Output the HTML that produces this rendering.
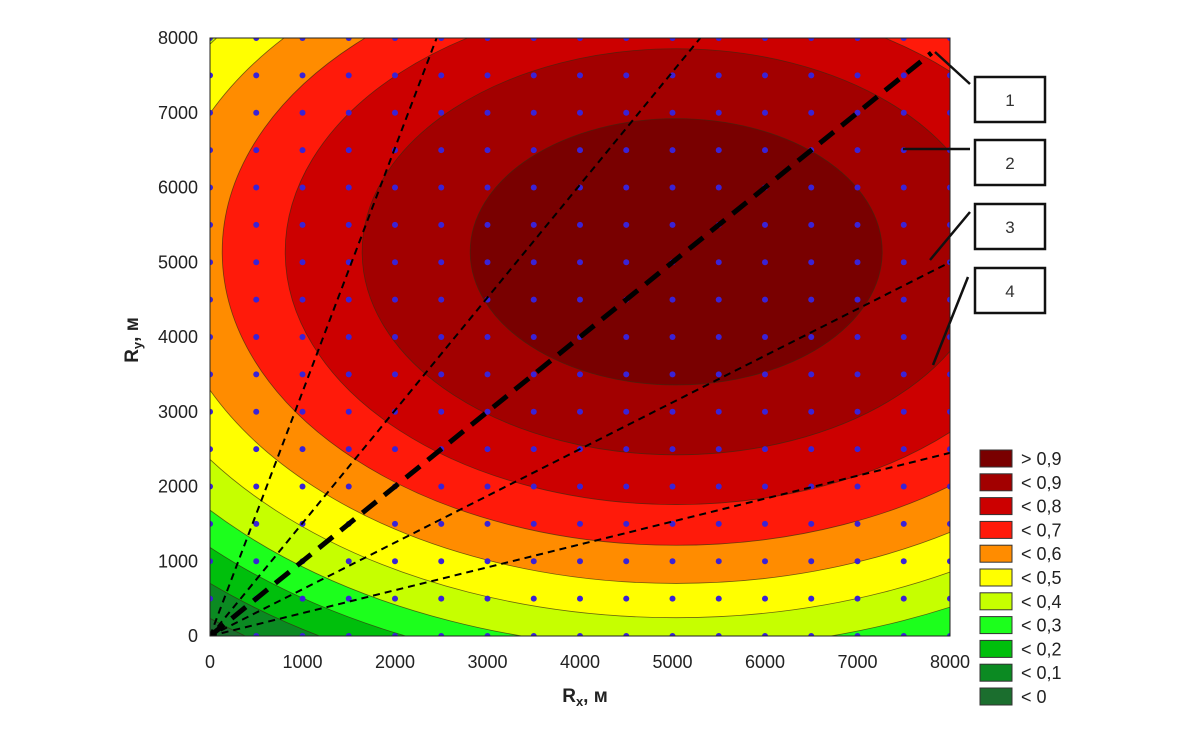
<!DOCTYPE html>
<html><head><meta charset="utf-8"><style>
html,body{margin:0;padding:0;background:#fff;}
svg{display:block;font-family:"Liberation Sans",Arial,sans-serif;}
</style></head><body>
<svg id="chart" width="1200" height="741" viewBox="0 0 1200 741"></svg>
<script>
// ---- data ----
const levelLabels = ["< 0","< 0,1","< 0,2","< 0,3","< 0,4","< 0,5","< 0,6","< 0,7","< 0,8","< 0,9","> 0,9"];
const levelColors = ["#1b6e2e","#0b8a22","#00bf0c","#1cff1c","#c6ff00","#ffff00","#ff8c00","#ff1a0a","#cc0000","#a20000","#790000"];
// semi-axis (x, metres) of each contour boundary: 0, 0.1 ... 0.9
const contourRx = [7935, 7492, 7059, 6638, 6119, 5546, 4908, 4227, 3395, 2227];
const contourAspect = 0.8;
const centerX = 5040, centerY = 5140;
const xTicks = [0,1000,2000,3000,4000,5000,6000,7000,8000];
const yTicks = [0,1000,2000,3000,4000,5000,6000,7000,8000];
// dashed rays from origin: end points (metres)
const rayEndX = [2450, 5300, 7800, 8000, 8000];
const rayEndY = [8000, 8000, 7800, 5000, 2450];
const rayThick = [false, false, true, false, false];
const gridStep = 500;

// ---- scales ----
const X0=210, X1=950, Y0=636, Y1=38, MAX=8000;
const sx = v => X0 + (X1-X0)*v/MAX;
const sy = v => Y0 - (Y0-Y1)*v/MAX;
const NS="http://www.w3.org/2000/svg";
const svg=document.getElementById('chart');
function mk(tag, attrs, parent){const e=document.createElementNS(NS,tag);for(const k in attrs)e.setAttribute(k,attrs[k]);(parent||svg).appendChild(e);return e;}

const defs=mk('defs',{});
const cp=mk('clipPath',{id:'plotclip'},defs);
mk('rect',{x:X0,y:Y1,width:X1-X0,height:Y0-Y1},cp);

const plot=mk('g',{'clip-path':'url(#plotclip)'});


const bg=mk('rect',{x:X0,y:Y1,width:X1-X0,height:Y0-Y1,fill:levelColors[0]},plot);


contourRx.forEach((rx,i)=>{
  const ry=rx*contourAspect;
  const e=mk('ellipse',{cx:sx(centerX),cy:sy(centerY),rx:sx(rx)-sx(0),ry:sy(0)-sy(ry),fill:levelColors[i+1],stroke:'#3a2a10','stroke-width':0.8,'stroke-opacity':0.7},plot);
  
  
});
// grid dots
for(let gx=0; gx<=MAX; gx+=gridStep){
  for(let gy=0; gy<=MAX; gy+=gridStep){
    const d=mk('circle',{cx:sx(gx),cy:sy(gy),r:3,fill:'#3a22d6'},plot);
    
    
  }
}
// rays
rayEndX.forEach((ex,i)=>{
  const l=mk('line',{x1:sx(0),y1:sy(0),x2:sx(ex),y2:sy(rayEndY[i]),stroke:'#000',
    'stroke-width':rayThick[i]?5:2,'stroke-dasharray':rayThick[i]?'18 10':'7 5'},plot);
  
  
});
const frame=mk('rect',{x:X0,y:Y1,width:X1-X0,height:Y0-Y1,fill:'none',stroke:'#222','stroke-width':1});



// ticks
xTicks.forEach(v=>{
  const t=mk('text',{x:sx(v),y:668,'text-anchor':'middle','font-size':18,fill:'#222'});
  t.textContent=v;
  
  
});
yTicks.forEach(v=>{
  const t=mk('text',{x:198,y:sy(v)+6,'text-anchor':'end','font-size':18,fill:'#222'});
  t.textContent=v;
  
  
});
// axis titles
const xt=mk('text',{x:585,y:702,'text-anchor':'middle','font-size':19,'font-weight':'bold',fill:'#222'});
xt.innerHTML='R<tspan font-size="13" dy="4">x</tspan><tspan dy="-4">, м</tspan>';


const yt=mk('text',{x:0,y:0,'text-anchor':'middle','font-size':19,'font-weight':'bold',fill:'#222',transform:'translate(138,340) rotate(-90)'});
yt.innerHTML='R<tspan font-size="13" dy="4">y</tspan><tspan dy="-4">, м</tspan>';



// legend
for(let i=0;i<levelLabels.length;i++){
  const idx=levelLabels.length-1-i;
  const y=450+i*23.8;
  const r=mk('rect',{x:980,y:y,width:32,height:17,fill:levelColors[idx],stroke:'#333','stroke-width':1});
  
  
  const t=mk('text',{x:1021,y:y+15,'font-size':18,fill:'#222'});
  t.textContent=levelLabels[idx];
  
  
}

// callouts
const boxY=[77,140,204,268];
const leaders=[[970,84,935,52],[970,149,903,149],[970,212,930,260],[968,277,933,365]];
boxY.forEach((by,i)=>{
  const g=mk('g',{});
  
  
  mk('rect',{x:975,y:by,width:70,height:45,fill:'#fff',stroke:'#111','stroke-width':2.5},g);
  const t=mk('text',{x:1010,y:by+29,'text-anchor':'middle','font-size':17,fill:'#333'},g);
  t.textContent=String(i+1);
  const L=leaders[i];
  mk('line',{x1:L[0],y1:L[1],x2:L[2],y2:L[3],stroke:'#111','stroke-width':2.5},g);
});
</script>
</body></html>
